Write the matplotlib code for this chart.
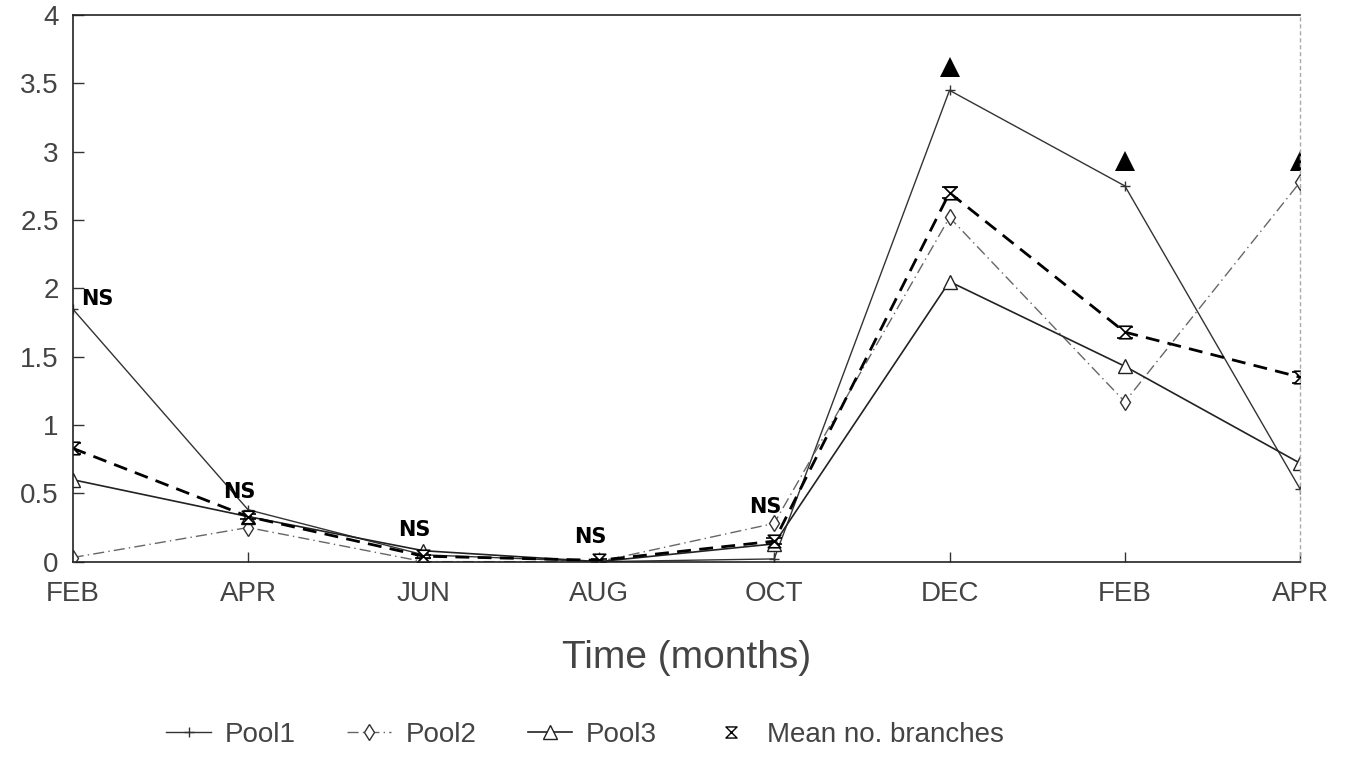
import matplotlib
matplotlib.use("Agg")
import matplotlib.pyplot as plt
from matplotlib.path import Path
from matplotlib.lines import Line2D
import numpy as np

months = ["FEB", "APR", "JUN", "AUG", "OCT", "DEC", "FEB", "APR"]
pool1 = [1.85, 0.38, 0.05, 0.00, 0.02, 3.45, 2.75, 0.53]
pool2 = [0.03, 0.25, 0.00, 0.00, 0.28, 2.52, 1.17, 2.78]
pool3 = [0.60, 0.33, 0.08, 0.00, 0.13, 2.05, 1.43, 0.72]
mean_branches = [0.83, 0.33, 0.04, 0.01, 0.15, 2.70, 1.68, 1.35]
mean_err = [0.04, 0.02, 0.01, 0.01, 0.02, 0.04, 0.04, 0.04]

ns_x = [0, 1, 2, 3, 4]
ns_y = [1.92, 0.51, 0.23, 0.18, 0.40]
sig_x = [5, 6, 7]
sig_y = [3.62, 2.93, 2.93]

yticks = [0, 0.5, 1, 1.5, 2, 2.5, 3, 3.5, 4]
ytick_labels = ["0", "0.5", "1", "1.5", "2", "2.5", "3", "3.5", "4"]

plt.rcParams['font.family'] = ['Liberation Sans', 'DejaVu Sans']
txt_color = '#444444'

fig = plt.figure(figsize=(13.46, 7.59), dpi=100)
ax = fig.add_axes([0.054, 0.26, 0.912, 0.72])

x = np.arange(len(months))

hourglass = Path([(-1, 1), (1, 1), (-1, -1), (1, -1), (-1, 1)],
                 [Path.MOVETO, Path.LINETO, Path.LINETO, Path.LINETO, Path.CLOSEPOLY])

l1, = ax.plot(x, pool1, color='#333333', lw=1.0, marker='+', ms=7, mew=1.0, label='Pool1')
l2, = ax.plot(x, pool2, color='#666666', lw=1.0, ls=(0, (8, 3, 1, 3)), marker='d', ms=8,
              mfc='white', mec='#333333', mew=1.0, label='Pool2')
l3, = ax.plot(x, pool3, color='#222222', lw=1.2, marker='^', ms=10,
              mfc='white', mec='#222222', mew=1.0, label='Pool3')
ax.errorbar(x, mean_branches, yerr=mean_err, color='black', lw=2.0, ls=(0, (5, 3)),
            marker=hourglass, ms=9, mfc='white', mec='black', mew=1.2,
            capsize=6, elinewidth=1.0, ecolor='black', label='Mean no. branches')

for xi, yi in zip(ns_x, ns_y):
    ax.text(xi + (0.14 if xi == 0 else -0.05), yi, "NS", fontsize=15, fontweight='bold',
            family=['DejaVu Sans'], ha='center', va='center', color='black')

ax.plot(sig_x, sig_y, ls='none', marker='^', ms=14, color='black',
        markeredgewidth=0)

ax.set_xlim(0, 7)
ax.set_ylim(0, 4)
ax.set_xticks(x)
ax.set_xticklabels(months, fontsize=20, color=txt_color)
ax.set_yticks(yticks)
ax.set_yticklabels(ytick_labels, fontsize=20, color=txt_color)
ax.tick_params(axis='both', direction='in', length=8, width=1.0, color='#333333')
ax.tick_params(axis='x', length=7, pad=14)
ax.tick_params(axis='y', pad=10)

for s in ['left', 'top', 'bottom']:
    ax.spines[s].set_color('#222222')
    ax.spines[s].set_linewidth(1.2)
ax.spines['right'].set_color('#aaaaaa')
ax.spines['right'].set_linestyle((0, (2, 3)))
ax.spines['right'].set_linewidth(1.0)

ax.set_xlabel("Time (months)", fontsize=28, color=txt_color, labelpad=24)

mean_handle = Line2D([], [], ls='none', marker=hourglass, ms=8, mfc='white',
                     mec='black', mew=1.0)
leg = fig.legend([l1, l2, l3, mean_handle],
                 ['Pool1', 'Pool2', 'Pool3', 'Mean no. branches'],
                 loc='lower left', bbox_to_anchor=(0.105, -0.018),
                 ncol=4, frameon=False, fontsize=20, handlelength=1.6,
                 columnspacing=1.85, handletextpad=0.5)
for t in leg.get_texts():
    t.set_color(txt_color)

fig.savefig("out.png", dpi=100)
